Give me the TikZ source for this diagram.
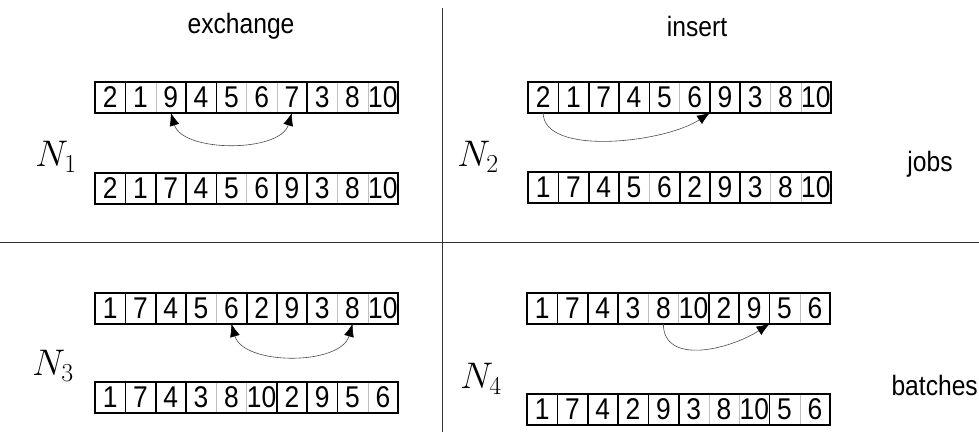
\RequirePackage{fix-cm}
\documentclass[tikz,border=0pt]{standalone}
\usepackage{fontspec}
\setmainfont{Liberation Sans}[FakeStretch=0.88]
\usetikzlibrary{arrows.meta}
\newcommand{\seqrow}[5]{%
  \foreach \v [count=\i] in {#4} {
    \node[cell] (#1-\i) at ({#2+(\i-0.5)*30.3}, {432-#3-15.25}) {\v};
  }
  \foreach \s [count=\i] in {#5} {
    \edef\tmp{\noexpand\draw[sep\s] (#1-\i.north east) -- (#1-\i.south east);}
    \tmp
  }
  \draw[frame] (#1-1.north west) rectangle (#1-10.south east);
}
\tikzset{
  cell/.style={minimum width=30.3pt, minimum height=30.5pt, inner sep=0pt,
    text height=21pt, text depth=0pt, font=\fontsize{30}{32}\selectfont},
  sept/.style={line width=1.7pt, black},
  sepn/.style={line width=0.5pt, black!25},
  frame/.style={line width=1.7pt, black},
  link/.style={line width=0.6pt, draw=black!70},
  tipend/.style={-{Latex[black, length=13pt, width=10pt]}},
  tipboth/.style={{Latex[black, length=13pt, width=10pt]}-{Latex[black, length=13pt, width=10pt]}},
  nlab/.style={font=\fontsize{37}{40}\selectfont, inner sep=0pt},
  head/.style={font=\fontsize{28}{30}\selectfont, inner sep=0pt},
  divider/.style={line width=0.9pt, black!80}
}
\begin{document}
\begin{tikzpicture}[x=1pt,y=1pt]
\fill[white] (0,0) rectangle (979,432);
\useasboundingbox (0,0) rectangle (979,432);
% dividers
\coordinate (vtop) at (442,424);
\coordinate (vbot) at (442,0);
\coordinate (hl) at (0,190);
\coordinate (hr) at (979,190);
\draw[divider] (vtop) -- (vbot);
\draw[divider] (hl) -- (hr);
% headings
\node[head] (hex) at (241,406) {exchange};
\node[head] (hin) at (697,406) {insert};
\node[head] (hjobs) at (930,268) {jobs};
\node[head, anchor=east] (hbat) at (978,47) {batches};
% neighbourhood labels
\node[nlab] (l1) at (56,275) {$N_1$};
\node[nlab] (l2) at (478,275) {$N_2$};
\node[nlab] (l3) at (53,66) {$N_3$};
\node[nlab] (l4) at (481,53) {$N_4$};
% rows
\seqrow{r1a}{95}{82}{2,1,9,4,5,6,7,3,8,10}{t,n,t,t,n,n,t,n,n}
\seqrow{r1b}{95}{173}{2,1,7,4,5,6,9,3,8,10}{t,t,t,t,n,t,t,n,n}
\seqrow{r2a}{528}{82}{2,1,7,4,5,6,9,3,8,10}{t,t,t,t,n,t,t,n,n}
\seqrow{r2b}{528}{172}{1,7,4,5,6,2,9,3,8,10}{t,t,t,n,t,t,t,n,n}
\seqrow{r3a}{95}{293}{1,7,4,5,6,2,9,3,8,10}{t,t,t,n,t,t,t,n,n}
\seqrow{r3b}{95}{382}{1,7,4,3,8,10,2,9,5,6}{t,t,t,n,n,t,t,t,n}
\seqrow{r4a}{527}{293}{1,7,4,3,8,10,2,9,5,6}{t,t,t,n,n,t,t,t,n}
\seqrow{r4b}{527}{394}{1,7,4,2,9,3,8,10,5,6}{t,t,t,t,t,n,n,t,n}
% moves
\draw[link, tipboth] (r1a-3.south) .. controls +(12,-40) and +(-12,-40) .. (r1a-7.south);
\draw[link, tipend] (r2a-1.south) .. controls +(0,-44) and +(-45,-30) .. (r2a-6.south east);
\draw[link, tipboth] (r3a-5.south) .. controls +(12,-42) and +(-12,-42) .. (r3a-9.south);
\draw[link, tipend] (r4a-5.south) .. controls +(0,-42) and +(-40,-26) .. (r4a-8.south east);
\end{tikzpicture}
\end{document}
